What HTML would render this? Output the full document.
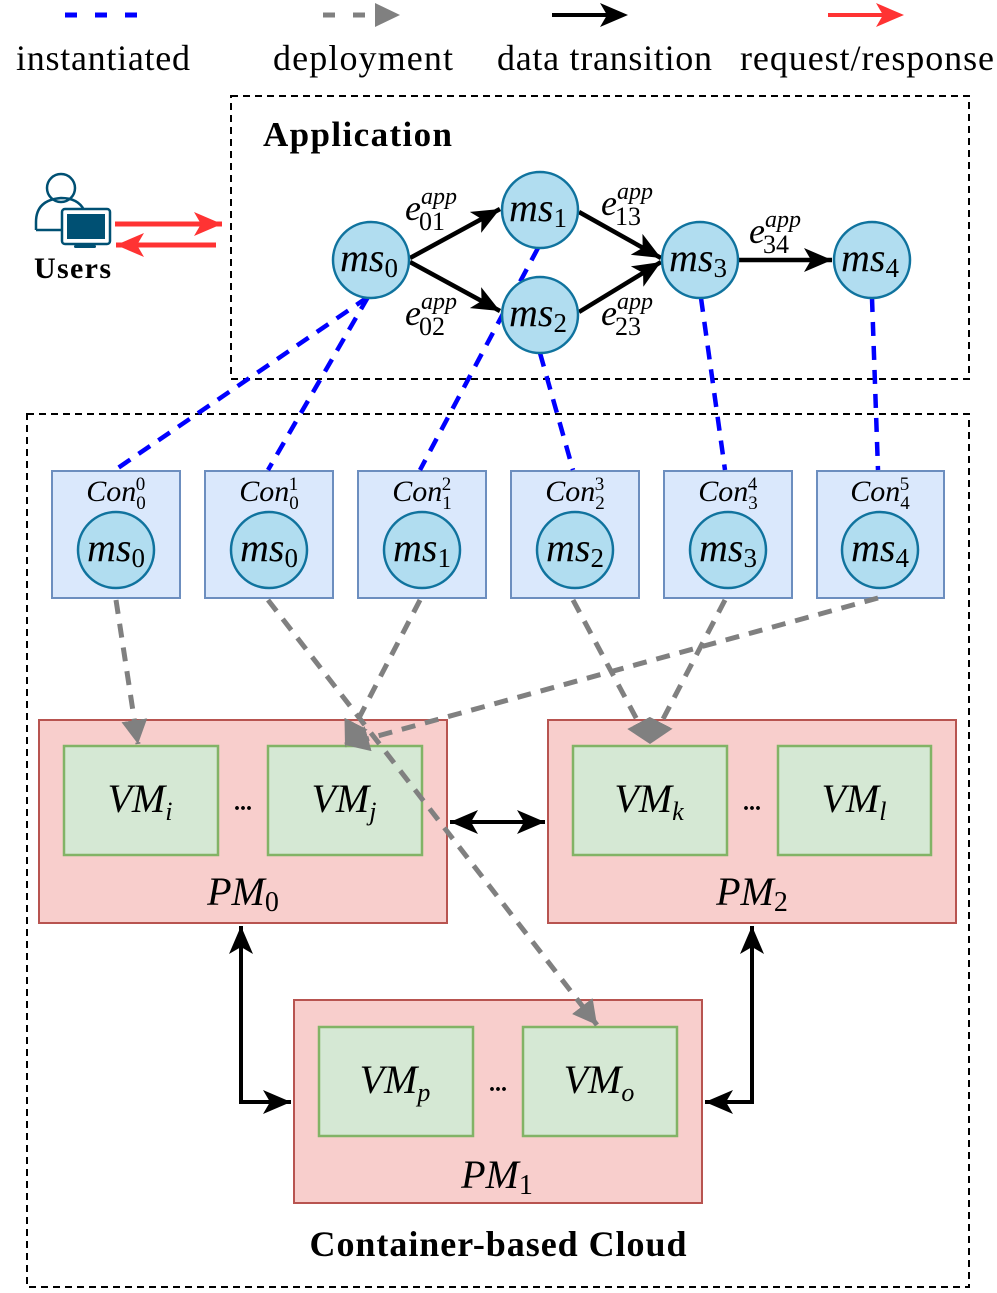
<!DOCTYPE html>
<html><head><meta charset="utf-8"><style>
html,body{margin:0;padding:0;background:#fff}
svg{display:block}
.m{font-family:"Liberation Serif",serif;font-style:italic}
.s{font-family:"Liberation Serif",serif;font-style:normal}
</style></head><body>
<svg width="997" height="1293" viewBox="0 0 997 1293" xmlns="http://www.w3.org/2000/svg">
<defs>
<marker id="ab" markerUnits="userSpaceOnUse" viewBox="0 0 30 24" markerWidth="30" markerHeight="24" refX="28" refY="12" orient="auto-start-reverse"><path d="M0,0 L28,12 L0,24 L7,12 Z" fill="#000"/></marker>
<marker id="ar" markerUnits="userSpaceOnUse" viewBox="0 0 30 24" markerWidth="30" markerHeight="24" refX="28" refY="12" orient="auto"><path d="M0,0 L28,12 L0,24 L7,12 Z" fill="#f33"/></marker>
<marker id="ag" markerUnits="userSpaceOnUse" viewBox="0 0 26 26" markerWidth="26" markerHeight="26" refX="24" refY="13" orient="auto"><path d="M0,0 L24,13 L0,26 Z" fill="#808080"/></marker>
</defs>

<!-- legend -->
<line x1="65" y1="15" x2="140" y2="15" stroke="#00f" stroke-width="5" stroke-dasharray="12,18"/>
<line x1="323" y1="15" x2="378" y2="15" stroke="#808080" stroke-width="5" stroke-dasharray="12,18"/>
<path d="M375,3 L400,15 L375,27 Z" fill="#808080"/>
<line x1="552" y1="15" x2="610" y2="15" stroke="#000" stroke-width="4"/>
<path d="M600,3 L628,15 L600,27 L607,15 Z" fill="#000"/>
<line x1="828" y1="15" x2="885" y2="15" stroke="#f33" stroke-width="4"/>
<path d="M876,3 L904,15 L876,27 L883,15 Z" fill="#f33"/>
<g class="s" font-size="36" fill="#000">
<text x="16" y="70" textLength="174">instantiated</text>
<text x="273" y="70" textLength="180">deployment</text>
<text x="497" y="70" textLength="215">data transition</text>
<text x="740" y="70" textLength="254">request/response</text>
</g>

<!-- Application box -->
<rect x="231" y="96" width="738" height="283" fill="none" stroke="#000" stroke-width="2" stroke-dasharray="7,5"/>
<text x="263" y="146" font-family="Liberation Serif,serif" font-weight="bold" font-size="35" textLength="189">Application</text>

<!-- Users -->
<circle cx="61" cy="188" r="14" fill="none" stroke="#005073" stroke-width="2.5"/>
<path d="M36,230 L36,222 Q36,200 61,198 Q78,198 84,210" fill="none" stroke="#005073" stroke-width="2.5"/>
<path d="M36,230 L62,230" stroke="#005073" stroke-width="2.5"/>
<rect x="62" y="209" width="48" height="35" rx="3" fill="#fff" stroke="#005073" stroke-width="2.5"/>
<rect x="67" y="214" width="38" height="25" fill="#005073"/>
<rect x="81" y="244" width="8" height="3" fill="#005073"/>
<rect x="74" y="245" width="22" height="3" rx="1.5" fill="#005073"/>
<text x="34" y="278" font-family="Liberation Serif,serif" font-weight="bold" font-size="30" textLength="77">Users</text>
<line x1="115" y1="224" x2="222" y2="224" stroke="#f33" stroke-width="5" marker-end="url(#ar)"/>
<line x1="216" y1="245" x2="116" y2="245" stroke="#f33" stroke-width="5" marker-end="url(#ar)"/>

<!-- cloud box -->
<rect x="27" y="414" width="942" height="873" fill="none" stroke="#000" stroke-width="2" stroke-dasharray="7,5"/>

<!-- PMs -->
<g stroke="#b85450" stroke-width="2" fill="#f8cecc">
<rect x="39" y="720" width="408" height="203"/>
<rect x="548" y="720" width="408" height="203"/>
<rect x="294" y="1000" width="408" height="203"/>
</g>
<g stroke="#82b366" stroke-width="2.5" fill="#d5e8d4">
<rect x="64" y="746" width="154" height="109"/>
<rect x="268" y="746" width="154" height="109"/>
<rect x="573" y="746" width="154" height="109"/>
<rect x="778" y="746" width="153" height="109"/>
<rect x="319" y="1027" width="154" height="109"/>
<rect x="523" y="1027" width="154" height="109"/>
</g>
<g class="m" font-size="40" text-anchor="middle">
<text x="140" y="812">VM<tspan font-size="26" dy="8">i</tspan></text>
<text x="344" y="812">VM<tspan font-size="26" dy="8">j</tspan></text>
<text x="649" y="812">VM<tspan font-size="26" dy="8">k</tspan></text>
<text x="854" y="812">VM<tspan font-size="26" dy="8">l</tspan></text>
<text x="395" y="1093">VM<tspan font-size="26" dy="8">p</tspan></text>
<text x="599" y="1093">VM<tspan font-size="26" dy="8">o</tspan></text>
<text x="243" y="905">PM<tspan class="s" font-size="28" dy="6">0</tspan></text>
<text x="752" y="905">PM<tspan class="s" font-size="28" dy="6">2</tspan></text>
<text x="497" y="1188">PM<tspan class="s" font-size="28" dy="6">1</tspan></text>
</g>
<g font-family="Liberation Serif,serif" font-weight="bold" font-size="24" text-anchor="middle">
<text x="243" y="810">...</text><text x="752" y="810">...</text><text x="498" y="1091">...</text>
</g>
<text x="498" y="1256" text-anchor="middle" font-family="Liberation Serif,serif" font-weight="bold" font-size="36" textLength="377">Container-based Cloud</text>

<!-- PM links -->
<line x1="450" y1="822" x2="545" y2="822" stroke="#000" stroke-width="4" marker-start="url(#ab)" marker-end="url(#ab)"/>
<path d="M241,926 L241,1102 L291,1102" fill="none" stroke="#000" stroke-width="4" marker-start="url(#ab)" marker-end="url(#ab)"/>
<path d="M752,926 L752,1102 L705,1102" fill="none" stroke="#000" stroke-width="4" marker-start="url(#ab)" marker-end="url(#ab)"/>

<!-- containers -->
<g stroke="#6c8ebf" stroke-width="2" fill="#dae8fc">
<rect x="52" y="471" width="128" height="127"/>
<rect x="205" y="471" width="128" height="127"/>
<rect x="358" y="471" width="128" height="127"/>
<rect x="511" y="471" width="128" height="127"/>
<rect x="664" y="471" width="128" height="127"/>
<rect x="817" y="471" width="127" height="127"/>
</g>
<g fill="#b1ddf0" stroke="#10739e" stroke-width="2.5">
<circle cx="116" cy="550" r="38"/><circle cx="269" cy="550" r="38"/><circle cx="422" cy="550" r="38"/>
<circle cx="575" cy="550" r="38"/><circle cx="728" cy="550" r="38"/><circle cx="880" cy="550" r="38"/>
</g>
<g class="m" font-size="30" text-anchor="middle">
<text x="116" y="501">Con<tspan class="s" font-size="19" dy="8">0</tspan><tspan class="s" font-size="19" dx="-10" dy="-19">0</tspan></text>
<text x="269" y="501">Con<tspan class="s" font-size="19" dy="8">0</tspan><tspan class="s" font-size="19" dx="-10" dy="-19">1</tspan></text>
<text x="422" y="501">Con<tspan class="s" font-size="19" dy="8">1</tspan><tspan class="s" font-size="19" dx="-10" dy="-19">2</tspan></text>
<text x="575" y="501">Con<tspan class="s" font-size="19" dy="8">2</tspan><tspan class="s" font-size="19" dx="-10" dy="-19">3</tspan></text>
<text x="728" y="501">Con<tspan class="s" font-size="19" dy="8">3</tspan><tspan class="s" font-size="19" dx="-10" dy="-19">4</tspan></text>
<text x="880" y="501">Con<tspan class="s" font-size="19" dy="8">4</tspan><tspan class="s" font-size="19" dx="-10" dy="-19">5</tspan></text>
</g>
<g class="m" font-size="40" text-anchor="middle">
<text x="116" y="561">ms<tspan class="s" font-size="27" dy="6">0</tspan></text>
<text x="269" y="561">ms<tspan class="s" font-size="27" dy="6">0</tspan></text>
<text x="422" y="561">ms<tspan class="s" font-size="27" dy="6">1</tspan></text>
<text x="575" y="561">ms<tspan class="s" font-size="27" dy="6">2</tspan></text>
<text x="728" y="561">ms<tspan class="s" font-size="27" dy="6">3</tspan></text>
<text x="880" y="561">ms<tspan class="s" font-size="27" dy="6">4</tspan></text>
</g>

<!-- deployment arrows -->
<g stroke="#808080" stroke-width="5" stroke-dasharray="14,10" fill="none">
<line x1="116" y1="600" x2="138" y2="744" marker-end="url(#ag)"/>
<line x1="268" y1="600" x2="597" y2="1025" marker-end="url(#ag)"/>
<line x1="420" y1="600" x2="345" y2="745" marker-end="url(#ag)"/>
<line x1="878" y1="598" x2="345" y2="745" marker-end="url(#ag)"/>
<line x1="573" y1="600" x2="650" y2="744" marker-end="url(#ag)"/>
<line x1="725" y1="600" x2="650" y2="744" marker-end="url(#ag)"/>
</g>

<!-- instantiated lines -->
<g stroke="#00f" stroke-width="4.5" stroke-dasharray="14,10" fill="none">
<line x1="368" y1="297" x2="115" y2="470"/>
<line x1="368" y1="297" x2="268" y2="470"/>
<line x1="538" y1="248" x2="420" y2="470"/>
<line x1="540" y1="353" x2="573" y2="470"/>
<line x1="701" y1="298" x2="725" y2="470"/>
<line x1="872" y1="298" x2="878" y2="470"/>
</g>

<!-- app edges -->
<g stroke="#000" stroke-width="4.5">
<line x1="410" y1="258" x2="500" y2="209" marker-end="url(#ab)"/>
<line x1="410" y1="262" x2="500" y2="311" marker-end="url(#ab)"/>
<line x1="579" y1="212" x2="661" y2="258" marker-end="url(#ab)"/>
<line x1="579" y1="312" x2="661" y2="262" marker-end="url(#ab)"/>
<line x1="739" y1="260" x2="832" y2="260" marker-end="url(#ab)"/>
</g>
<g fill="#b1ddf0" stroke="#10739e" stroke-width="2.5">
<circle cx="371" cy="260" r="38"/><circle cx="540" cy="210" r="38"/><circle cx="540" cy="315" r="38"/>
<circle cx="700" cy="260" r="38"/><circle cx="872" cy="260" r="38"/>
</g>
<g class="m" font-size="40" text-anchor="middle">
<text x="369" y="271">ms<tspan class="s" font-size="27" dy="6">0</tspan></text>
<text x="538" y="221">ms<tspan class="s" font-size="27" dy="6">1</tspan></text>
<text x="538" y="326">ms<tspan class="s" font-size="27" dy="6">2</tspan></text>
<text x="698" y="271">ms<tspan class="s" font-size="27" dy="6">3</tspan></text>
<text x="870" y="271">ms<tspan class="s" font-size="27" dy="6">4</tspan></text>
</g>
<g class="m" font-size="36">
<text x="405" y="220">e<tspan font-size="24" dy="-16">app</tspan><tspan class="s" font-size="26" dx="-38" dy="26">01</tspan></text>
<text x="405" y="325">e<tspan font-size="24" dy="-16">app</tspan><tspan class="s" font-size="26" dx="-38" dy="26">02</tspan></text>
<text x="601" y="215">e<tspan font-size="24" dy="-16">app</tspan><tspan class="s" font-size="26" dx="-38" dy="26">13</tspan></text>
<text x="601" y="325">e<tspan font-size="24" dy="-16">app</tspan><tspan class="s" font-size="26" dx="-38" dy="26">23</tspan></text>
<text x="749" y="243">e<tspan font-size="24" dy="-16">app</tspan><tspan class="s" font-size="26" dx="-38" dy="26">34</tspan></text>
</g>
</svg>
</body></html>
